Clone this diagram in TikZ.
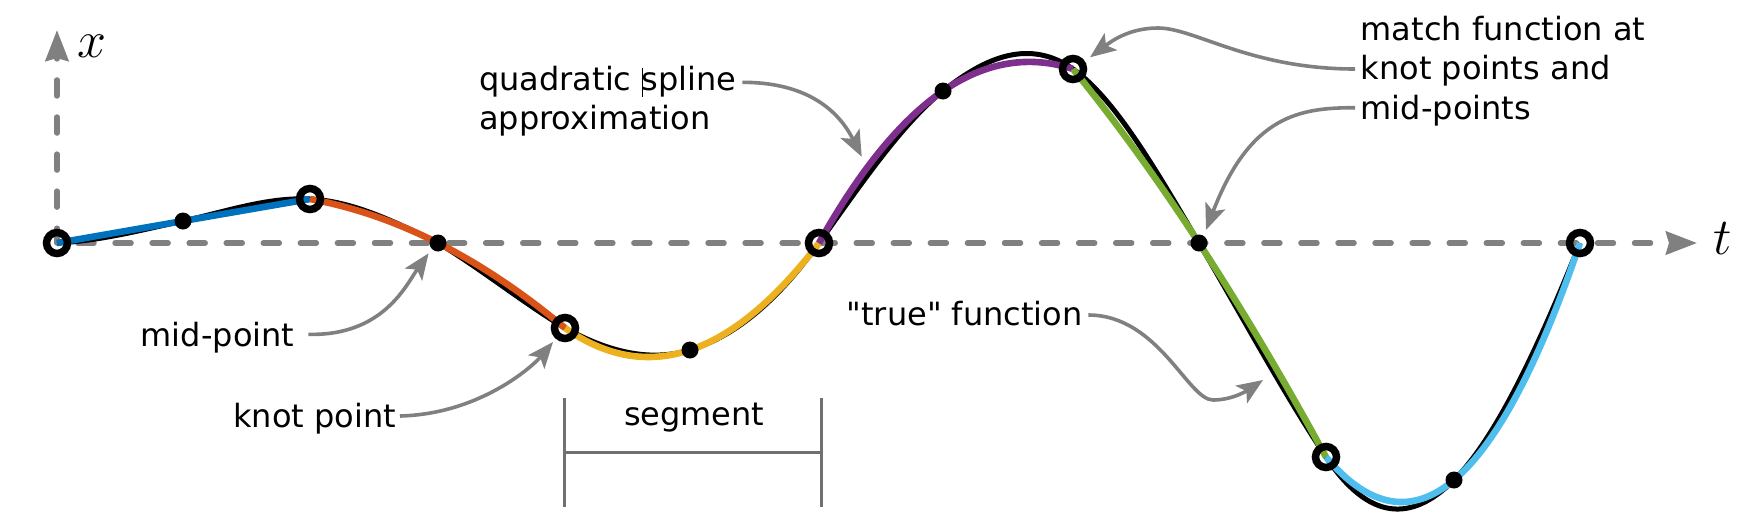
\documentclass[tikz,border=0pt]{standalone}
\usepackage{fix-cm}
\usepackage{fontspec}
\setmainfont{DejaVu Sans}[Ligatures=TeXOff]
\usetikzlibrary{arrows.meta,calc}
\definecolor{sA}{RGB}{0,114,189}
\definecolor{sB}{RGB}{217,83,25}
\definecolor{sC}{RGB}{237,177,32}
\definecolor{sD}{RGB}{126,47,142}
\definecolor{sE}{RGB}{119,172,48}
\definecolor{sF}{RGB}{77,190,238}
\definecolor{axgray}{RGB}{128,128,128}
\definecolor{brgray}{RGB}{112,112,112}
\begin{document}
\begin{tikzpicture}[x=0.5pt,y=-0.5pt,
  axisline/.style={draw=axgray,line width=2.75pt,line cap=round,dash pattern=on 8pt off 10.53pt},
  axtip/.style={-{Stealth[length=15.5pt,width=11.5pt,inset=1.5pt]}},
  truefn/.style={draw=black,line width=2.5pt},
  spl/.style={line width=3.3pt},
  knot/.style={circle,draw=black,line width=3.75pt,minimum size=10.5pt,inner sep=0pt},
  midpt/.style={circle,fill=black,minimum size=8.5pt,inner sep=0pt},
  lbl/.style={font=\fontsize{16}{19.5}\selectfont,inner sep=0pt,outer xsep=3.5pt,outer ysep=0pt},
  callout/.style={draw=axgray,line width=1.8pt,-{Stealth[length=13pt,width=10.5pt,inset=3pt]}},
  bracket/.style={draw=brgray,line width=1.35pt},
  axlbl/.style={font=\fontsize{26}{30}\selectfont,inner sep=0pt}
]
\useasboundingbox (0,0) rectangle (1740,516);

% knot points and mid-points
\coordinate (k0) at (57,243);
\coordinate (m0) at (183,221);
\coordinate (k1) at (310,199);
\coordinate (m1) at (438,243);
\coordinate (k2) at (565,328);
\coordinate (m2) at (690,350);
\coordinate (k3) at (819,243);
\coordinate (m3) at (943,91);
\coordinate (k4) at (1073,69);
\coordinate (m4) at (1199,243);
\coordinate (k5) at (1326,457);
\coordinate (m5) at (1454,480);
\coordinate (k6) at (1580,243);

% quadratic control points
\coordinate (q0) at ($2*(m0)-0.5*(k0)-0.5*(k1)$);
\coordinate (q1) at ($2*(m1)-0.5*(k1)-0.5*(k2)$);
\coordinate (q2) at ($2*(m2)-0.5*(k2)-0.5*(k3)$);
\coordinate (q3) at ($2*(m3)-0.5*(k3)-0.5*(k4)$);
\coordinate (q4) at ($2*(m4)-0.5*(k4)-0.5*(k5)$);
\coordinate (q5) at ($2*(m5)-0.5*(k5)-0.5*(k6)$);

% axes
\coordinate (xtip) at (57,30);
\coordinate (ttip) at (1697,243);
\draw[axisline,axtip,dash phase=0.6pt] (k0) -- (xtip);
\draw[axisline,axtip,dash phase=8.03pt] (k0) -- (ttip);
\node[axlbl,anchor=base west] (xl) at (77,57) {$x$};
\node[axlbl,anchor=base west] (tl) at (1713,254) {$t$};

% segment bracket
\draw[bracket] (564.3,398.3) -- (564.3,506.7);
\draw[bracket] (821.7,398.3) -- (821.7,506.7);
\draw[bracket] (564.3,452.3) -- (821.7,452.3);

% "true" function
\draw[truefn] (k0) .. controls +(42,-2) and +(-42,9.2) .. (m0)
 .. controls +(42.3,-9.3) and +(-42.3,-2.1) .. (k1)
 .. controls +(42.7,2.1) and +(-42.7,-21.3) .. (m1)
 .. controls +(42.3,25.4) and +(-42.3,-25.4) .. (k2)
 .. controls +(41.7,22.9) and +(-41.7,12.5) .. (m2)
 .. controls +(43,-12.9) and +(-43,60.2) .. (k3)
 .. controls +(41.3,-57.8) and +(-41.3,33) .. (m3)
 .. controls +(43.3,-34.6) and +(-43.3,-30.3) .. (k4)
 .. controls +(42,29.4) and +(-42,-71.4) .. (m4)
 .. controls +(42.3,71.9) and +(-42.3,-63.5) .. (k5)
 .. controls +(42.7,64) and +(-42.7,42.7) .. (m5)
 .. controls +(42,-42) and +(-42,105) .. (k6);

% quadratic spline segments
\draw[spl,draw=sA] (k0) .. controls ($(k0)!2/3!(q0)$) and ($(k1)!2/3!(q0)$) .. (k1);
\draw[spl,draw=sB] (k1) .. controls ($(k1)!2/3!(q1)$) and ($(k2)!2/3!(q1)$) .. (k2);
\draw[spl,draw=sC] (k2) .. controls ($(k2)!2/3!(q2)$) and ($(k3)!2/3!(q2)$) .. (k3);
\draw[spl,draw=sD] (k3) .. controls ($(k3)!2/3!(q3)$) and ($(k4)!2/3!(q3)$) .. (k4);
\draw[spl,draw=sE] (k4) .. controls ($(k4)!2/3!(q4)$) and ($(k5)!2/3!(q4)$) .. (k5);
\draw[spl,draw=sF] (k5) .. controls ($(k5)!2/3!(q5)$) and ($(k6)!2/3!(q5)$) .. (k6);

% markers
\foreach \i in {0,...,5} \node[midpt] (M\i) at (m\i) {};
\foreach \i in {0,...,6} \node[knot] (K\i) at (k\i) {};

% labels
\node[lbl,anchor=base west] (qs1) at (472.2,90) {quadratic \rlap{\rule[-3.3pt]{0.5pt}{14.3pt}}spline};
\node[lbl,anchor=base west] (qs2) at (472.2,129.3) {approximation};
\node[lbl,anchor=base west] (mf1) at (1353.8,40.7) {match function at};
\node[lbl,anchor=base west] (mf2) at (1353.8,79.3) {knot points and};
\node[lbl,anchor=base west] (mf3) at (1353.8,119) {mid-points};
\node[lbl,anchor=base east] (ml) at (301.3,346.7) {mid-point};
\node[lbl,anchor=base east] (kl) at (403,427.5) {knot point};
\node[lbl,anchor=base] (sg) at (694.2,425.7) {segment};
\node[lbl,anchor=base east] (tf) at (1089.7,325) {"true" function};

% arrow tips
\coordinate (tipM1) at ($(m1)+(-9.4,10.3)$);
\coordinate (tipK2) at ($(k2)+(-12,14)$);
\coordinate (tipQ) at (861.7,156.7);
\coordinate (tipTFa) at (1213,400);
\coordinate (tipTF) at (1263,380);
\coordinate (tipK4a) at (1158,28);
\coordinate (tipK4) at ($(k4)+(17,-11.7)$);
\coordinate (tipM4) at ($(m4)+(7,-13)$);

% callouts
\draw[callout] ($(ml.base east)+(7,-12.4)$) .. controls +(75,2) and +(-22,31) .. (tipM1);
\draw[callout] ($(kl.base east)+(-3,-11.5)$) .. controls +(80,-2) and +(-20,24) .. (tipK2);
\draw[callout] ($(qs1.base east)+(-1,-7.7)$) .. controls +(60,0) and +(-25,-50) .. (tipQ);
\draw[callout] ($(tf.base east)+(-1.4,-10)$) .. controls +(70,0) and +(-25,0) .. (tipTFa)
  .. controls +(20,0) and +(-15,10) .. (tipTF);
\draw[callout] ($(mf2.base west)+(1.2,-10.3)$) .. controls +(-105,0) and +(37,0) .. (tipK4a)
  .. controls +(-30,0) and +(20,-15) .. (tipK4);
\draw[callout] ($(mf3.base west)+(1.2,-11.3)$) .. controls +(-55,0) and +(44,-115) .. (tipM4);
\end{tikzpicture}
\end{document}
